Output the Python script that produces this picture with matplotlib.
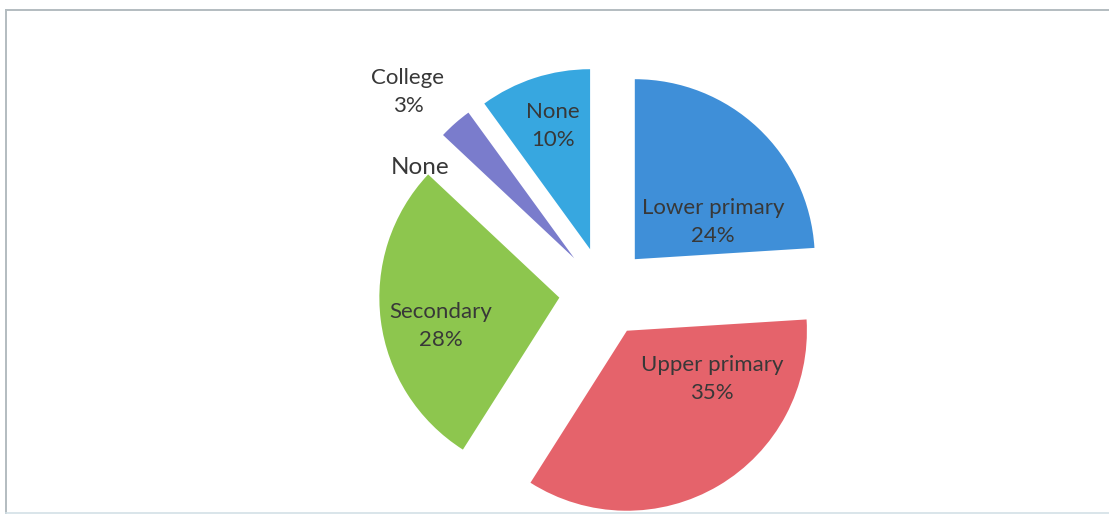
import matplotlib
matplotlib.use("Agg")
import matplotlib.pyplot as plt
from matplotlib.lines import Line2D

# Education level shares (clockwise from 12 o'clock)
categories = ["Lower primary", "Upper primary", "Secondary", "None", "College", "None"]
shares = [24, 35, 28, 0, 3, 10]
show_pct = [True, True, True, False, True, True]
colors = ["#3f8fd8", "#e5636b", "#8dc64e", "#8dc64e", "#7a7ccc", "#37a7e0"]

# Label anchor points (pixel coordinates, y down) and font sizes
label_xy = [(713, 222), (712, 379), (441, 326), (420, 168), (408, 92), (553, 126)]
label_size = [16, 16, 16, 17.5, 16, 16]

W, H, DPI = 1109, 516, 100
fig = plt.figure(figsize=(W / DPI, H / DPI), dpi=DPI)
fig.patch.set_facecolor("white")
ax = fig.add_axes([0, 0, 1, 1])
ax.set_xlim(0, W)
ax.set_ylim(0, H)
ax.set_aspect("equal")
ax.axis("off")

cx, cy, radius = 604, H - 292, 180
# every slice pulled out by a quarter of the radius
explode = [0.25 * radius] * len(shares)
ax.pie(shares, colors=colors, startangle=90, counterclock=False,
       center=(cx, cy), radius=radius, explode=explode, normalize=True,
       wedgeprops=dict(linewidth=0), frame=False)
ax.set_xlim(0, W)
ax.set_ylim(0, H)

font = ["Lato", "DejaVu Sans"]
total = sum(shares)
for name, val, pct, (lx, ly), fs in zip(categories, shares, show_pct, label_xy, label_size):
    txt = f"{name}\n{round(100 * val / total)}%" if pct else name
    ax.text(lx, H - ly, txt, ha="center", va="center", fontsize=fs,
            color="#383838", family=font, linespacing=1.45)

# chart frame
fig.add_artist(Line2D([6 / W, 1], [1 - 9.5 / H, 1 - 9.5 / H], color="#b3bcc0", lw=1.4))
fig.add_artist(Line2D([6 / W, 6 / W], [1 - 9.5 / H, 3 / H], color="#b3bcc0", lw=1.4))
fig.add_artist(Line2D([6 / W, 1], [3 / H, 3 / H], color="#d3e0e6", lw=1.2))

fig.savefig("out.png", dpi=DPI, facecolor="white")
